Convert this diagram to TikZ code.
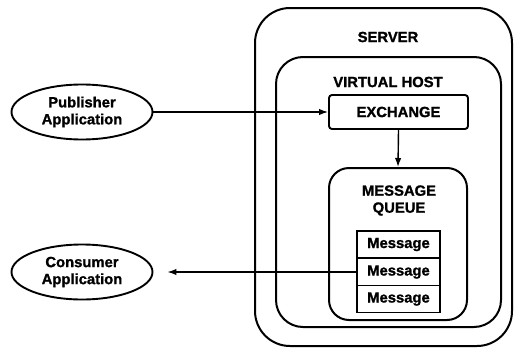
\documentclass[tikz,border=0pt]{standalone}
\usepackage{fontspec}
\setmainfont{Liberation Sans}
\newfontfamily\heavyfont{Liberation Sans Bold}[FakeBold=1.2]
\usetikzlibrary{arrows.meta,shapes.geometric}

\begin{document}
\begin{tikzpicture}[x=1pt,y=-1pt,
  txt/.style={font=\heavyfont\fontsize{14.8}{17}\selectfont},
  lbl/.style={txt, align=center, inner sep=0pt},
  frame/.style={draw, line width=2pt, rounded corners=#1, inner sep=0pt},
  msgbox/.style={draw, line width=1.8pt, minimum width=83pt, minimum height=27pt,
                 inner sep=0pt, txt},
  app/.style={draw, ellipse, line width=1.9pt, minimum width=141pt, minimum height=55pt,
              inner sep=0pt, align=center, txt},
  arr/.style={line width=1.4pt, -{Latex[length=9pt,width=6.5pt]}}]

  % canvas
  \useasboundingbox (0,0) rectangle (516,348);

  % server and virtual host frames
  \node[frame=35pt, minimum width=257pt, minimum height=338pt] (server) at (383.5,177) {};
  \node[lbl] (serverlbl) at (388,37) {SERVER};
  \node[frame=27pt, minimum width=225pt, minimum height=270pt] (vhost) at (388.5,192) {};
  \node[lbl] (vhostlbl) at (388,82) {VIRTUAL HOST};

  % exchange
  \node[frame=3pt, minimum width=139pt, minimum height=34pt, lbl, draw, line width=1.9pt] (exch) at (398.5,112) {EXCHANGE};

  % message queue with its stack of messages
  \node[frame=20pt, minimum width=138pt, minimum height=152pt] (mq) at (398,244) {};
  \node[lbl] (mqlbl) at (399,200.5) {MESSAGE\\QUEUE};
  \node[msgbox] (m1) at (398.5,244.5) {Message};
  \node[msgbox] (m2) at (398.5,272) {Message};
  \node[msgbox] (m3) at (398.5,299) {Message};

  % applications
  \node[app] (pub) at (82,112) {Publisher\\Application};
  \node[app] (cons) at (82,272) {Consumer\\Application};

  % flows
  \draw[arr] (pub.east) -- (exch.west);
  \draw[arr] (exch.south) -- (mq.north);
  \draw[arr, shorten >=14pt] (m2.west) -- (cons.east);
\end{tikzpicture}
\end{document}
